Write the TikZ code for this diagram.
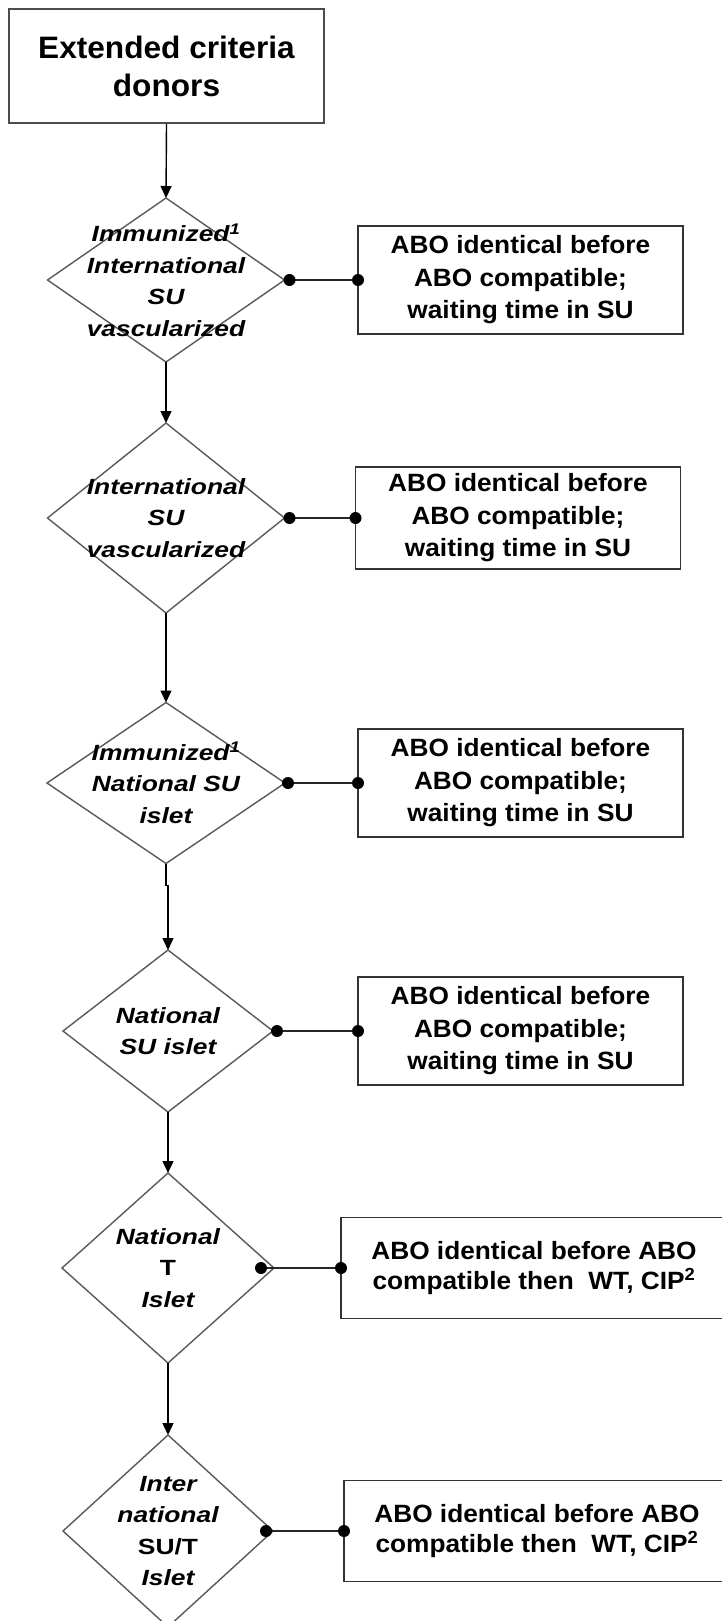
\documentclass[tikz,border=0pt]{standalone}
\usepackage{fontspec}
\setmainfont{Liberation Sans}
\newfontfamily\topfont{Liberation Sans}[FakeStretch=1.02]
\newfontfamily\boxfont{Liberation Sans}[FakeStretch=1.05]
\newfontfamily\diafont{Liberation Sans}[FakeStretch=1.2]
\usetikzlibrary{shapes.geometric,arrows.meta}
\begin{document}
\begin{tikzpicture}[x=1pt,y=-1pt,
  topbox/.style={draw=black!70, line width=2pt, minimum width=315pt, minimum height=114pt, inner sep=0pt,
    align=center, font=\topfont\fontsize{31}{38}\selectfont\bfseries},
  rulebox/.style={draw=black!80, line width=1.6pt, minimum width=325pt, minimum height=108pt, inner sep=0pt, outer sep=0pt,
    align=center, font=\boxfont\fontsize{25}{32.5}\selectfont\bfseries},
  dia/.style={diamond, draw=black!65, line width=1.4pt, inner sep=0pt, outer sep=0pt},
  dtext/.style={align=center, inner sep=0pt, font=\diafont\fontsize{22}{31.5}\selectfont\bfseries\itshape},
  flow/.style={draw=black, line width=1.4pt, -{Triangle[length=12pt,width=11pt]}},
  link/.style={draw=black!85, line width=1.6pt},
  dotr/.style={fill=black}
]
\useasboundingbox (0,0) rectangle (722,1621);

% start box
\node[topbox] (top) at (166.5,66) {Extended criteria\\donors};

% diamonds
\node[dia, minimum width=237pt, minimum height=164pt] (d1) at (166,280) {};
\node[dia, minimum width=237pt, minimum height=190pt] (d2) at (166,518) {};
\node[dia, minimum width=238pt, minimum height=161pt] (d3) at (166,783) {};
\node[dia, minimum width=210pt, minimum height=162pt] (d4) at (168,1031) {};
\node[dia, minimum width=212pt, minimum height=190pt] (d5) at (168,1268) {};
\node[dia, minimum width=210pt, minimum height=192pt] (d6) at (168,1531) {};

% diamond texts
\node[dtext] (t1) at (d1) {Immunized\textsuperscript{1}\\International\\SU\\vascularized};
\node[dtext] (t2) at (d2) {International\\SU\\vascularized};
\node[dtext] (t3) at (d3) {Immunized\textsuperscript{1}\\National SU\\islet};
\node[dtext] (t4) at (d4) {National\\SU islet};
\node[dtext] (t5) at (d5) {National\\{\upshape T}\\Islet};
\node[dtext] (t6) at (d6) {Inter\\national\\{\upshape SU/T}\\Islet};

% rule boxes
\node[rulebox] (b1) at (520.5,280) {ABO identical before\\ABO compatible;\\waiting time in SU};
\node[rulebox, minimum height=102pt] (b2) at (518,518) {ABO identical before\\ABO compatible;\\waiting time in SU};
\node[rulebox] (b3) at (520.5,783) {ABO identical before\\ABO compatible;\\waiting time in SU};
\node[rulebox] (b4) at (520.5,1031) {ABO identical before\\ABO compatible;\\waiting time in SU};
\node[rulebox, minimum width=400pt, minimum height=101pt, font=\boxfont\fontsize{25}{30}\selectfont\bfseries] (b5) at (541,1268) {\hspace*{-14pt}ABO identical before ABO\\\hspace*{-14pt}compatible then~~WT, CIP\textsuperscript{2}};
\node[rulebox, minimum width=400pt, minimum height=101pt, font=\boxfont\fontsize{25}{30}\selectfont\bfseries] (b6) at (544,1531) {\hspace*{-14pt}ABO identical before ABO\\\hspace*{-14pt}compatible then~~WT, CIP\textsuperscript{2}};

% flow arrows
\draw[flow] (top.south) -- (d1.north);
\draw[flow] (d1.south) -- (d2.north);
\draw[flow] (d2.south) -- (d3.north);
\draw[flow] (d3.south) -- ++(0,22) -| (d4.north);
\draw[flow] (d4.south) -- (d5.north);
\draw[flow] (d5.south) -- (d6.north);

% dot connectors
\coordinate (p1) at ([xshift=5pt]d1.east);
\coordinate (p2) at ([xshift=5pt]d2.east);
\coordinate (p3) at ([xshift=3pt]d3.east);
\coordinate (p4) at ([xshift=4pt]d4.east);
\coordinate (p5) at ([xshift=-13pt]d5.east);
\coordinate (p6) at ([xshift=-7pt]d6.east);
\foreach \i in {1,...,6}{
  \draw[link] (p\i) -- (b\i.west);
  \fill[dotr] (p\i) circle[radius=6pt];
  \fill[dotr] (b\i.west) circle[radius=6pt];
}
\end{tikzpicture}
\end{document}
